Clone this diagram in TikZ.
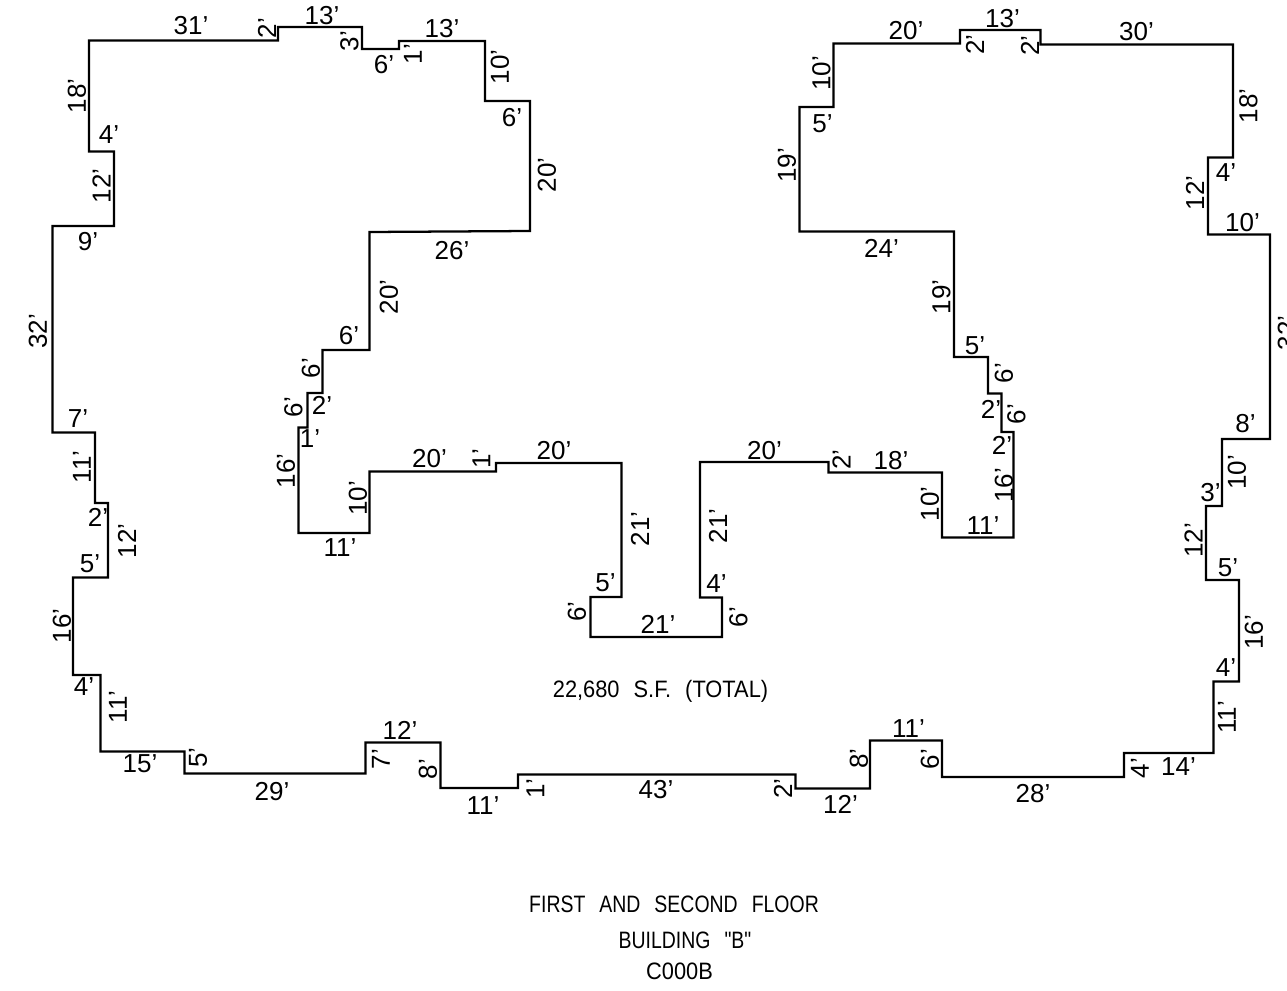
\documentclass[tikz,border=0pt]{standalone}
\usepackage{fontspec}
\setmainfont{Liberation Sans}
\newfontfamily\floorfont[FakeStretch=0.82]{Liberation Sans}
\newfontfamily\areafont[FakeStretch=0.92]{Liberation Sans}
\newcommand{\wgap}{\hspace{10.5pt}}
\tikzset{
	wall/.style={line width=1.7pt, line join=miter},
	dimh/.style={inner sep=0pt, font=\fontsize{19.5}{21}\selectfont},
	dimv/.style={dimh, rotate=90},
	floortitle/.style={inner sep=0pt, font=\floorfont\fontsize{17.8}{20}\selectfont},
	areatitle/.style={inner sep=0pt, font=\areafont\fontsize{17.8}{20}\selectfont}
}
\begin{document}
\begin{tikzpicture}[x=0.75pt,y=0.75pt,yscale=-1,xscale=1]
\useasboundingbox (0,0) rectangle (1287,991);

%outline
\draw [wall] (89,40.5) -- (278,40.5) -- (278,27) -- (362,27) -- (362,49) -- (399,49) -- (399,41) -- (485,41) -- (485,101) -- (530,101) -- (530,231) -- (369.5,232) -- (369.5,350) -- (322.5,350) -- (322.5,393) -- (307.5,393) -- (307.5,427.5) -- (298.5,427.5) -- (298.5,533) -- (369.5,533) -- (369.5,471.5) -- (496,471.5) -- (496,463) -- (621.5,463) -- (621.5,597) -- (590.5,597) -- (590.5,637) -- (722,637) -- (722,597.5) -- (700,597.5) -- (700,462) -- (828.5,462) -- (828.5,472.5) -- (942,472.5) -- (942,537.5) -- (1013.5,537.5) -- (1013.5,432) -- (1001.5,432) -- (1001.5,393.5) -- (988,393.5) -- (988,357) -- (954,357) -- (954,231.5) -- (799.5,231.5) -- (799.5,107) -- (833.5,107) -- (833.5,43.5) -- (960,43.5) -- (960,30) -- (1040.5,30) -- (1040.5,44.5) -- (1233,44.5) -- (1233,157.5) -- (1208,157.5) -- (1208,234.5) -- (1270,234.5) -- (1270,439) -- (1222,439) -- (1222,506) -- (1206,506) -- (1206,580) -- (1239,580) -- (1239,681.5) -- (1213.5,681.5) -- (1213.5,753) -- (1124,753) -- (1124,777) -- (942,777) -- (942,740.5) -- (870,740.5) -- (870,788.5) -- (795.5,788.5) -- (795.5,774.5) -- (518,774.5) -- (518,788) -- (440.5,788) -- (440.5,742.5) -- (365.5,742.5) -- (365.5,773.5) -- (184.5,773.5) -- (184.5,751.5) -- (100.5,751.5) -- (100.5,675) -- (73,675) -- (73,577.5) -- (108,577.5) -- (108,503) -- (95,503) -- (95,432.5) -- (52.5,432.5) -- (52.5,226) -- (114,226) -- (114,151.5) -- (89,151.5) -- cycle;

%left wing
\draw (191,26) node (a1) [dimh] {31'};
\draw (267,28) node (a2) [dimv] {2'};
\draw (322,16) node (a3) [dimh] {13'};
\draw (349.5,41) node (a4) [dimv] {3'};
\draw (384,64.5) node (a5) [dimh] {6'};
\draw (413,54) node (a6) [dimv] {1'};
\draw (442,28.5) node (a7) [dimh] {13'};
\draw (500,67) node (a8) [dimv] {10'};
\draw (512,118) node (a9) [dimh] {6'};
\draw (547,175) node (a10) [dimv] {20'};
\draw (452,250.5) node (a11) [dimh] {26'};
\draw (389,297) node (a12) [dimv] {20'};
\draw (349,336) node (a13) [dimh] {6'};
\draw (311,368) node (a14) [dimv] {6'};
\draw (322,405) node (a15) [dimh] {2'};
\draw (293.5,407) node (a16) [dimv] {6'};
\draw (310,439) node (a17) [dimh] {1'};
\draw (286,471) node (a18) [dimv] {16'};
\draw (358,498.5) node (a19) [dimv] {10'};
\draw (340,547.5) node (a20) [dimh] {11'};
\draw (429.5,459) node (a21) [dimh] {20'};
\draw (481.5,458.5) node (a22) [dimv] {1'};
\draw (554,451) node (a23) [dimh] {20'};
\draw (640,529) node (a24) [dimv] {21'};
\draw (605.5,582.5) node (a25) [dimh] {5'};
\draw (577,611.5) node (a26) [dimv] {6'};
\draw (658,624) node (a27) [dimh] {21'};

%left side, going down
\draw (77,96) node (b1) [dimv] {18'};
\draw (109,135) node (b2) [dimh] {4'};
\draw (101.5,186) node (b3) [dimv] {12'};
\draw (88,242) node (b4) [dimh] {9'};
\draw (38,331.5) node (b5) [dimv] {32'};
\draw (78,419) node (b6) [dimh] {7'};
\draw (82,467) node (b7) [dimv] {11'};
\draw (98,517) node (b8) [dimh] {2'};
\draw (127,541) node (b9) [dimv] {12'};
\draw (90,564) node (b10) [dimh] {5'};
\draw (62,626) node (b11) [dimv] {16'};
\draw (84,687) node (b12) [dimh] {4'};
\draw (118,707) node (b13) [dimv] {11'};

%bottom side
\draw (140,764) node (c1) [dimh] {15'};
\draw (198,757.5) node (c2) [dimv] {5'};
\draw (272,792) node (c3) [dimh] {29'};
\draw (381,759) node (c4) [dimv] {7'};
\draw (400,730) node (c5) [dimh] {12'};
\draw (428,769) node (c6) [dimv] {8'};
\draw (483,806) node (c7) [dimh] {11'};
\draw (535.5,788.5) node (c8) [dimv] {1'};
\draw (656,790) node (c9) [dimh] {43'};
\draw (783,788.5) node (c10) [dimv] {2'};
\draw (840.5,804) node (c11) [dimh] {12'};
\draw (859,758.5) node (c12) [dimv] {8'};
\draw (908.5,728.5) node (c13) [dimh] {11'};
\draw (930,759) node (c14) [dimv] {6'};
\draw (1033,794) node (c15) [dimh] {28'};
\draw (1140,768) node (c16) [dimv] {4'};
\draw (1178.5,766.5) node (c17) [dimh] {14'};

%right wing
\draw (764.5,451) node (d1) [dimh] {20'};
\draw (841.5,459.5) node (d2) [dimv] {2'};
\draw (891,461) node (d3) [dimh] {18'};
\draw (718,526) node (d4) [dimv] {21'};
\draw (716.5,584) node (d5) [dimh] {4'};
\draw (738.5,617) node (d6) [dimv] {6'};
\draw (930,504) node (d7) [dimv] {10'};
\draw (983,526) node (d8) [dimh] {11'};
\draw (1004,485.5) node (d9) [dimv] {16'};
\draw (1002,445) node (d10) [dimh] {2'};
\draw (1016.5,414) node (d11) [dimv] {6'};
\draw (991,409) node (d12) [dimh] {2'};
\draw (1004,373) node (d13) [dimv] {6'};
\draw (975,345.5) node (d14) [dimh] {5'};
\draw (941.5,297) node (d15) [dimv] {19'};
\draw (881.5,248) node (d16) [dimh] {24'};
\draw (787,165.5) node (d17) [dimv] {19'};
\draw (822.5,124) node (d18) [dimh] {5'};
\draw (821.5,73.5) node (d19) [dimv] {10'};
\draw (906,31) node (d20) [dimh] {20'};
\draw (975,44.5) node (d21) [dimv] {2'};
\draw (1002.5,19) node (d22) [dimh] {13'};
\draw (1030,45.5) node (d23) [dimv] {2'};
\draw (1136.5,32) node (d24) [dimh] {30'};

%right side, going down
\draw (1248.5,106) node (e1) [dimv] {18'};
\draw (1226,172.5) node (e2) [dimh] {4'};
\draw (1195,193) node (e3) [dimv] {12'};
\draw (1242.5,223) node (e4) [dimh] {10'};
\draw (1287,333) node (e5) [dimv] {32'};
\draw (1245.5,423.5) node (e6) [dimh] {8'};
\draw (1237,472.5) node (e7) [dimv] {10'};
\draw (1210.5,492.5) node (e8) [dimh] {3'};
\draw (1193.5,540.5) node (e9) [dimv] {12'};
\draw (1228,567.5) node (e10) [dimh] {5'};
\draw (1254,632.5) node (e11) [dimv] {16'};
\draw (1226,668) node (e12) [dimh] {4'};
\draw (1227,717.5) node (e13) [dimv] {11'};

\draw (660.5,691) node (area) [areatitle] {22,680\wgap S.F.\wgap (TOTAL)};
\draw (674,904) node (floor) [floortitle] {FIRST\wgap AND\wgap SECOND\wgap FLOOR};
\draw (685,940) node (bldg) [floortitle] {BUILDING\wgap "B"};
\draw (679.5,971.5) node (code) [areatitle] {C000B};

\end{tikzpicture}
\end{document}
